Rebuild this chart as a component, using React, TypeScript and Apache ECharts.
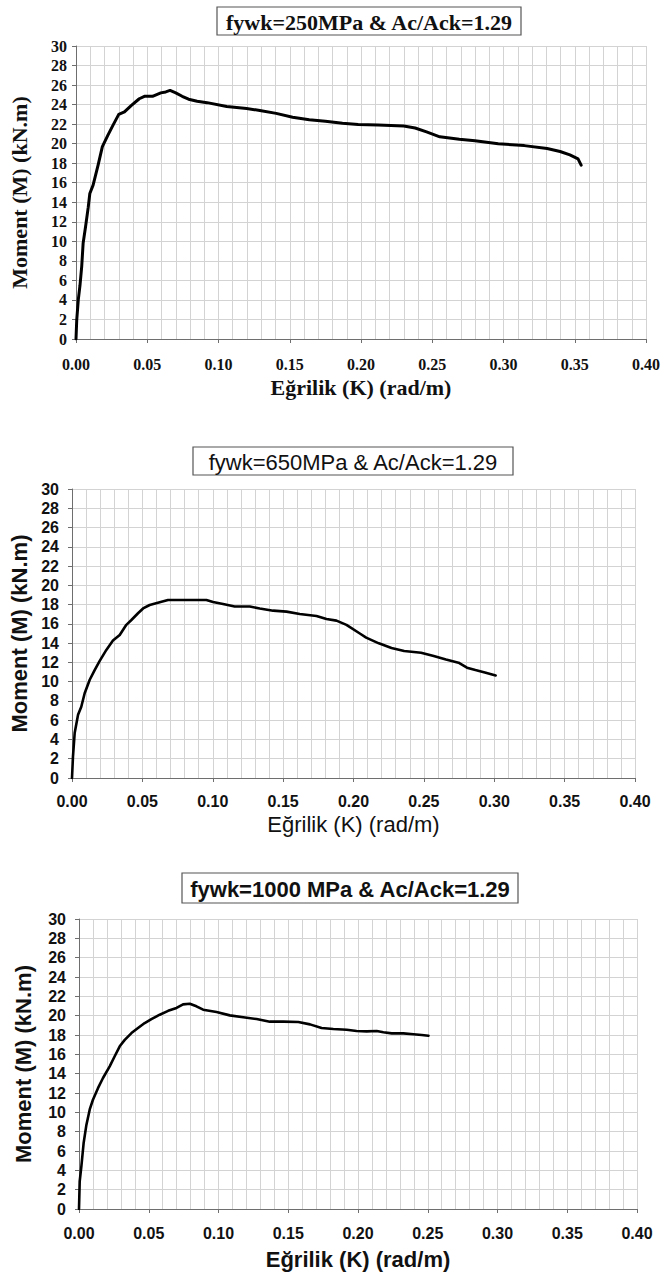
import React, { useEffect, useRef } from "react";
import * as echarts from "echarts";

// ---- Data ----
const titles = [
  "fywk=250MPa & Ac/Ack=1.29",
  "fywk=650MPa & Ac/Ack=1.29",
  "fywk=1000 MPa & Ac/Ack=1.29",
];
const xAxisName = "Eğrilik (K) (rad/m)";
const yAxisName = "Moment (M) (kN.m)";

const k1 = [0, 0.0005, 0.0016, 0.0028, 0.004, 0.005, 0.0067, 0.0086, 0.0097, 0.012, 0.0155, 0.0185, 0.0225, 0.026, 0.03, 0.034, 0.0387, 0.0444, 0.048, 0.0537, 0.0595, 0.063, 0.066, 0.07, 0.0745, 0.079, 0.085, 0.092, 0.1058, 0.1197, 0.129, 0.1405, 0.152, 0.1637, 0.175, 0.187, 0.198, 0.212, 0.23, 0.238, 0.246, 0.2553, 0.269, 0.28, 0.2963, 0.3146, 0.3306, 0.3397, 0.3466, 0.3523, 0.3545];
const m1 = [0, 1.9, 4.0, 5.5, 7.4, 9.8, 11.5, 13.5, 14.9, 15.75, 17.8, 19.7, 20.9, 21.9, 23.0, 23.25, 23.9, 24.6, 24.85, 24.85, 25.2, 25.3, 25.45, 25.2, 24.85, 24.55, 24.35, 24.2, 23.8, 23.6, 23.4, 23.1, 22.7, 22.45, 22.3, 22.1, 21.96, 21.9, 21.8, 21.6, 21.2, 20.7, 20.45, 20.3, 20.0, 19.8, 19.5, 19.2, 18.85, 18.45, 17.8];

const k2 = [0, 0.0007, 0.0019, 0.0043, 0.0066, 0.009, 0.0126, 0.0161, 0.0197, 0.0244, 0.0291, 0.0339, 0.0386, 0.0422, 0.0469, 0.0505, 0.0552, 0.0623, 0.0682, 0.0955, 0.1002, 0.1073, 0.1156, 0.1263, 0.1334, 0.1429, 0.1524, 0.1618, 0.1737, 0.1808, 0.1879, 0.195, 0.2045, 0.209, 0.218, 0.227, 0.236, 0.248, 0.257, 0.2657, 0.2746, 0.2806, 0.2866, 0.294, 0.301];
const m2 = [0, 2.25, 4.66, 6.56, 7.4, 8.8, 10.2, 11.2, 12.16, 13.3, 14.27, 14.85, 15.9, 16.4, 17.1, 17.6, 17.96, 18.24, 18.48, 18.48, 18.27, 18.07, 17.8, 17.8, 17.6, 17.37, 17.27, 17.03, 16.82, 16.5, 16.34, 15.9, 15.0, 14.57, 13.98, 13.5, 13.18, 13.0, 12.66, 12.3, 11.97, 11.45, 11.2, 10.93, 10.65];

const k3 = [0, 0.0005, 0.0017, 0.0033, 0.0053, 0.0077, 0.01, 0.0136, 0.0172, 0.022, 0.0256, 0.0292, 0.0328, 0.0376, 0.0423, 0.0471, 0.0519, 0.0579, 0.0639, 0.0699, 0.0746, 0.0794, 0.0842, 0.089, 0.0986, 0.1081, 0.1177, 0.1273, 0.1368, 0.1464, 0.1572, 0.1656, 0.1739, 0.1823, 0.1919, 0.199, 0.2062, 0.2134, 0.2182, 0.2242, 0.2325, 0.2397, 0.2457, 0.2505];
const m3 = [0, 2.86, 4.4, 6.8, 8.7, 10.3, 11.3, 12.5, 13.55, 14.76, 15.8, 16.83, 17.5, 18.2, 18.72, 19.24, 19.65, 20.1, 20.5, 20.8, 21.17, 21.24, 20.97, 20.62, 20.38, 20.03, 19.83, 19.65, 19.38, 19.38, 19.34, 19.1, 18.72, 18.62, 18.55, 18.41, 18.38, 18.41, 18.28, 18.17, 18.17, 18.07, 18.0, 17.93];

const seriesK = [k1, k2, k3];
const seriesM = [m1, m2, m3];

// ---- Layout / styles ----
const SERIF = '"Liberation Serif", "Times New Roman", serif';
const SANS = '"Liberation Sans", Arial, sans-serif';

const panels = [
  { grid: { left: 74, top: 46, width: 577, height: 293 }, font: SERIF, tick: 16, tickW: "bold", nameSize: 22, xNameW: "bold", yNameW: "bold", xGap: 37, yGap: 46, xMargin: 17, yMargin: 9, box: { x: 217, y: 7, w: 304, h: 28 }, titleSize: 22, titleW: "bold", lw: 3 },
  { grid: { left: 72, top: 489, width: 563, height: 289 }, font: SANS, tick: 16, tickW: "bold", nameSize: 22, xNameW: "normal", yNameW: "bold", xGap: 35, yGap: 40, xMargin: 15, yMargin: 13, box: { x: 193, y: 447, w: 320, h: 28 }, titleSize: 22, titleW: "normal", lw: 2.6 },
  { grid: { left: 79, top: 919, width: 558, height: 290 }, font: SANS, tick: 16, tickW: "bold", nameSize: 22, xNameW: "bold", yNameW: "bold", xGap: 39, yGap: 45, xMargin: 16, yMargin: 13, box: { x: 182, y: 873, w: 336, h: 30 }, titleSize: 22, titleW: "bold", lw: 2.6 },
];

const GRID_COLOR = "#d3d3d3";
const AXIS_COLOR = "#6e6e6e";

export default function App() {
  const ref = useRef<HTMLDivElement>(null);

  useEffect(() => {
    document.body.style.margin = "0";
    if (!ref.current) return;
    const chart = echarts.init(ref.current, undefined, { renderer: "svg" });

    const graphic: any[] = [];
    panels.forEach((p, i) => {
      graphic.push({
        type: "rect",
        shape: { x: p.box.x, y: p.box.y, width: p.box.w, height: p.box.h },
        style: { fill: "#fff", stroke: "#555", lineWidth: 1.2 },
        z: 10,
      });
      graphic.push({
        type: "text",
        x: p.box.x + p.box.w / 2,
        y: p.box.y + p.box.h / 2 + 1,
        style: {
          text: titles[i],
          align: "center",
          verticalAlign: "middle",
          fontFamily: p.font,
          fontSize: p.titleSize,
          fontWeight: p.titleW,
          fill: "#111",
        },
        z: 11,
      });
    });

    const option: any = {
      animation: false,
      backgroundColor: "#fff",
      grid: panels.map((p) => ({ ...p.grid, containLabel: false })),
      xAxis: panels.map((p, i) => ({
        type: "value",
        gridIndex: i,
        min: 0,
        max: 0.4,
        interval: 0.05,
        name: xAxisName,
        nameLocation: "middle",
        nameGap: p.xGap,
        nameTextStyle: { fontFamily: p.font, fontSize: p.nameSize, fontWeight: p.xNameW, color: "#111" },
        axisLine: { show: true, onZero: false, lineStyle: { color: AXIS_COLOR, width: 1 } },
        axisTick: { show: true, length: 4, lineStyle: { color: AXIS_COLOR } },
        axisLabel: {
          margin: p.xMargin,
          fontFamily: p.font,
          fontSize: p.tick,
          fontWeight: p.tickW,
          color: "#111",
          formatter: (v: number) => v.toFixed(2),
        },
        splitLine: { show: true, lineStyle: { color: GRID_COLOR, width: 1 } },
        minorTick: { show: false, splitNumber: 5 },
        minorSplitLine: { show: true, lineStyle: { color: GRID_COLOR, width: 1 } },
      })),
      yAxis: panels.map((p, i) => ({
        type: "value",
        gridIndex: i,
        min: 0,
        max: 30,
        interval: 2,
        name: yAxisName,
        nameLocation: "middle",
        nameGap: p.yGap,
        nameRotate: 90,
        nameTextStyle: { fontFamily: p.font, fontSize: p.nameSize, fontWeight: p.yNameW, color: "#111" },
        axisLine: { show: true, onZero: false, lineStyle: { color: AXIS_COLOR, width: 1 } },
        axisTick: { show: true, length: 4, lineStyle: { color: AXIS_COLOR } },
        axisLabel: {
          margin: p.yMargin,
          fontFamily: p.font,
          fontSize: p.tick,
          fontWeight: p.tickW,
          color: "#111",
        },
        splitLine: { show: true, lineStyle: { color: GRID_COLOR, width: 1 } },
      })),
      series: panels.map((p, i) => ({
        type: "line",
        xAxisIndex: i,
        yAxisIndex: i,
        showSymbol: false,
        symbol: "none",
        smooth: false,
        lineStyle: { color: "#000", width: p.lw, join: "round", cap: "round" },
        data: seriesK[i].map((k, j) => [k, seriesM[i][j]]),
        z: 5,
      })),
      graphic,
    };

    chart.setOption(option);
    return () => chart.dispose();
  }, []);

  return <div ref={ref} style={{ width: 663, height: 1275 }} />;
}
